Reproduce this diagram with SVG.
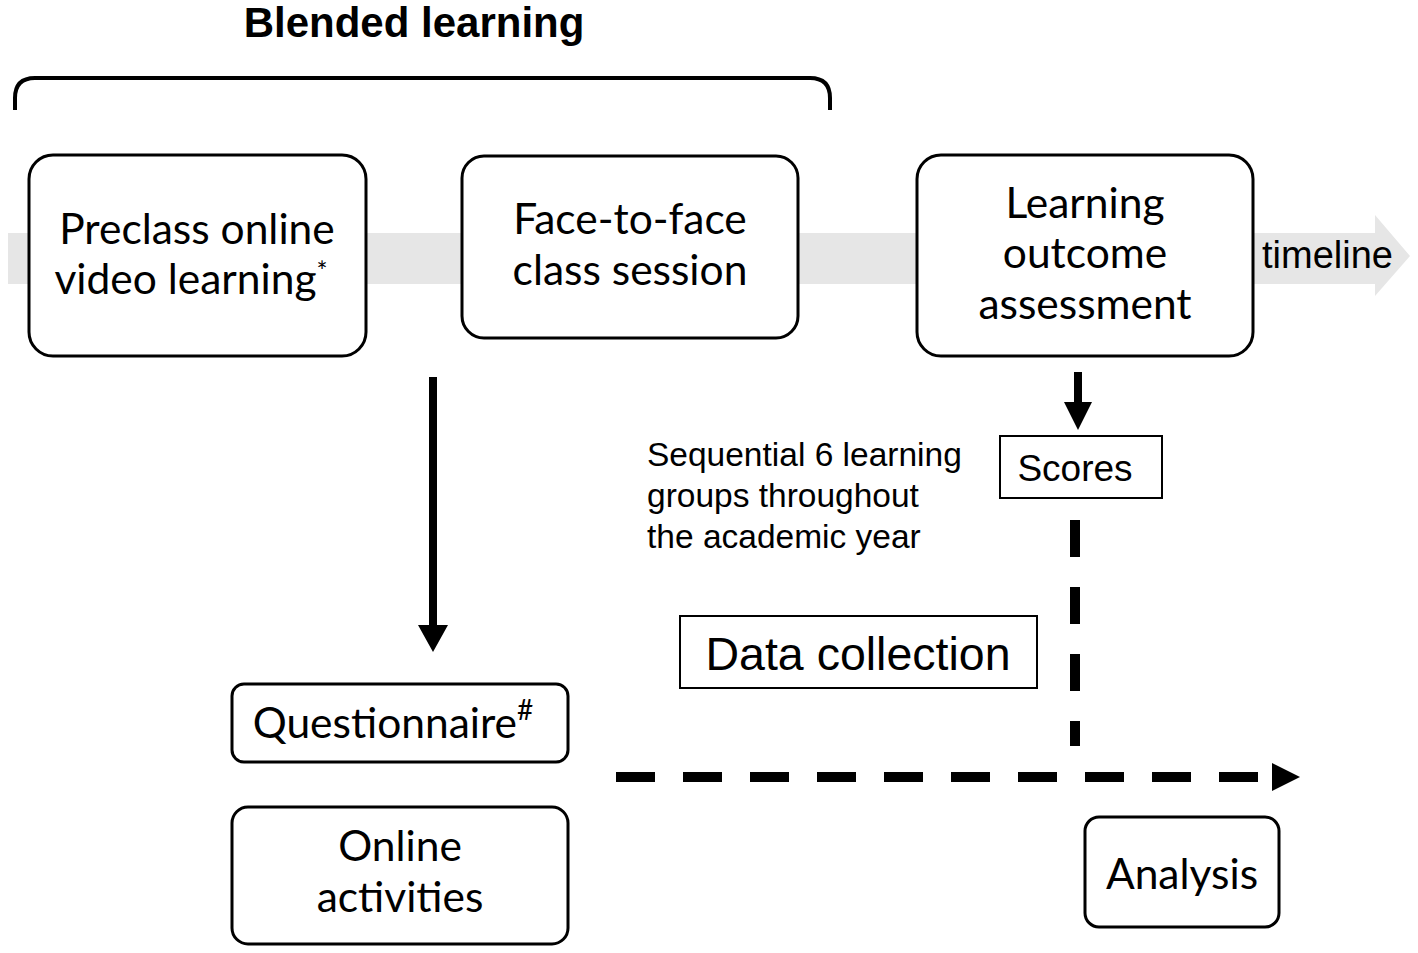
<svg xmlns="http://www.w3.org/2000/svg" width="1418" height="953" viewBox="0 0 1418 953">
<defs>
<style>
.box{fill:#fff;stroke:#000;stroke-width:3}
.sq{fill:#fff;stroke:#000;stroke-width:2}
.cal{font-family:Lato,"Open Sans","Noto Sans",sans-serif;font-size:42.5px;fill:#000;text-anchor:middle}
.ar{font-family:"Liberation Sans",Arial,sans-serif;fill:#000}
.dash{stroke:#000;stroke-width:10;fill:none}
</style>
</defs>
<rect width="1418" height="953" fill="#fff"/>
<g id="title">
<text class="ar" x="414" y="37" font-size="42" font-weight="bold" text-anchor="middle">Blended learning</text>
<path d="M15 110 V98 Q15 78 35 78 H810 Q830 78 830 98 V110" fill="none" stroke="#000" stroke-width="4"/>
</g>
<g id="timeline">
<path d="M8 233 H1375 V215 L1410 256 L1375 296 V284 H8 Z" fill="#e6e6e6"/>
<text class="ar" x="1262" y="268" font-size="38">timeline</text>
</g>
<g id="connectors">
<path d="M429 377 H437 V625 H448 L433 652 L418 625 H429 Z" fill="#000"/>
<path d="M1074 372 H1082 V402 H1092 L1078 430 L1064 402 H1074 Z" fill="#000"/>
<line class="dash" x1="1075" y1="520" x2="1075" y2="746" stroke-dasharray="37 30"/>
<line class="dash" x1="616" y1="777" x2="1260" y2="777" stroke-dasharray="39 28"/>
<path d="M1272 763 L1300 777 L1272 791 Z" fill="#000"/>
</g>
<g id="preclass">
<rect class="box" x="29" y="155" width="337" height="201" rx="24"/>
<text class="cal" x="197" y="244">Preclass online</text>
<text class="cal" x="191" y="294">video learning<tspan font-size="26" dy="-13">*</tspan></text>
</g>
<g id="face">
<rect class="box" x="462" y="156" width="336" height="182" rx="22"/>
<text class="cal" x="630" y="234">Face-to-face</text>
<text class="cal" x="630" y="285">class session</text>
</g>
<g id="assessment">
<rect class="box" x="917" y="155" width="336" height="201" rx="24"/>
<text class="cal" x="1085" y="218">Learning</text>
<text class="cal" x="1085" y="268">outcome</text>
<text class="cal" x="1085" y="319">assessment</text>
</g>
<g id="scores">
<rect class="sq" x="1000" y="436" width="162" height="62"/>
<text class="ar" x="1075" y="481" font-size="37" text-anchor="middle">Scores</text>
</g>
<g id="sequential">
<text class="ar" x="647" y="466" font-size="33.5">Sequential 6 learning</text>
<text class="ar" x="647" y="507" font-size="33.5">groups throughout</text>
<text class="ar" x="647" y="548" font-size="33.5">the academic year</text>
</g>
<g id="datacollection">
<rect class="sq" x="680" y="616" width="357" height="72"/>
<text class="ar" x="858" y="670" font-size="46.5" text-anchor="middle">Data collection</text>
</g>
<g id="questionnaire">
<rect class="box" x="232" y="684" width="336" height="78" rx="12"/>
<text class="cal" x="393" y="738">Questionnaire<tspan font-size="28" dy="-18">#</tspan></text>
</g>
<g id="online">
<rect class="box" x="232" y="807" width="336" height="137" rx="16"/>
<text class="cal" x="400" y="861">Online</text>
<text class="cal" x="400" y="912">activities</text>
</g>
<g id="analysis">
<rect class="box" x="1085" y="817" width="194" height="110" rx="14"/>
<text class="cal" x="1182" y="889">Analysis</text>
</g>
</svg>
